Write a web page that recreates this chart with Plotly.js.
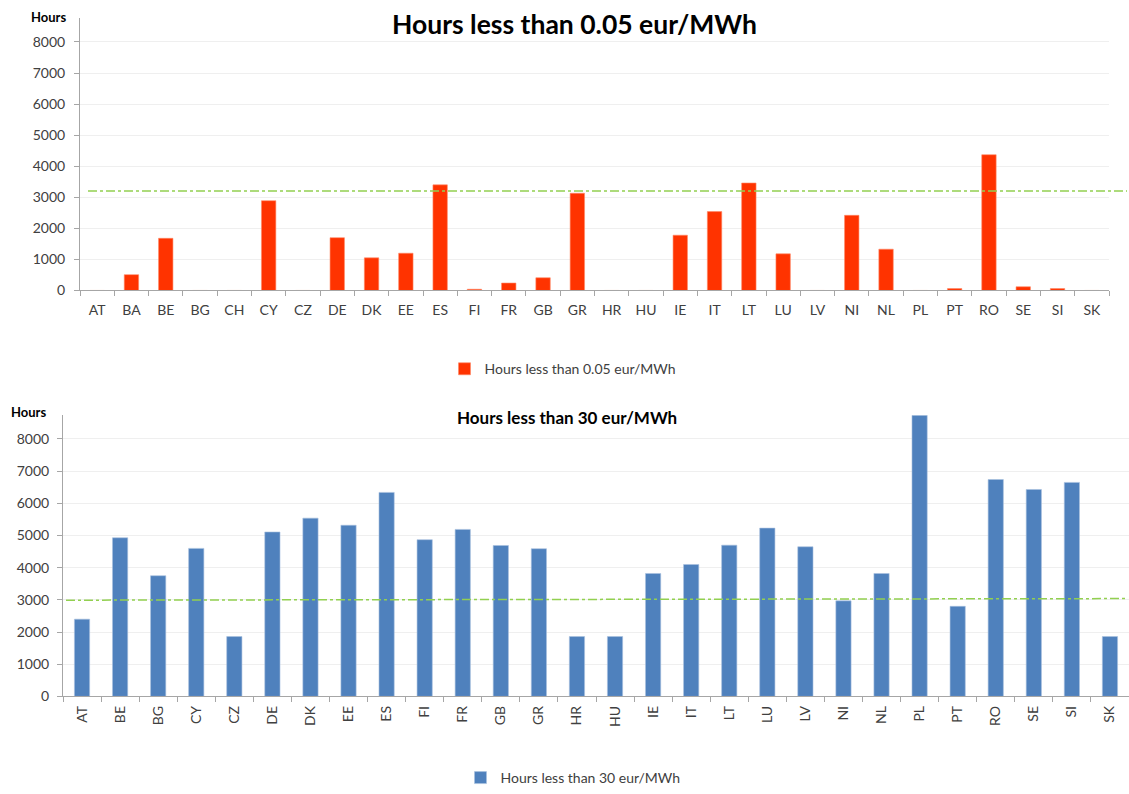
<!DOCTYPE html>
<html>
<head>
<meta charset="utf-8">
<script src="https://cdn.plot.ly/plotly-3.0.1.min.js"></script>
<style>html,body{margin:0;padding:0;background:#fff;}#chart{width:1129px;height:794px;}</style>
</head>
<body>
<div id="chart"></div>
<script>
// ---- Data ----
var topCountries = ["AT","BA","BE","BG","CH","CY","CZ","DE","DK","EE","ES","FI","FR","GB","GR","HR","HU","IE","IT","LT","LU","LV","NI","NL","PL","PT","RO","SE","SI","SK"];
var topHours     = [0,510,1680,0,0,2890,0,1700,1050,1200,3400,40,240,410,3130,0,0,1780,2540,3460,1180,0,2420,1330,0,60,4370,120,60,0];
var topRefLine   = [3200, 3200];

var bottomCountries = ["AT","BE","BG","CY","CZ","DE","DK","EE","ES","FI","FR","GB","GR","HR","HU","IE","IT","LT","LU","LV","NI","NL","PL","PT","RO","SE","SI","SK"];
var bottomHours     = [2400,4930,3750,4600,1860,5110,5540,5320,6340,4870,5190,4690,4590,1860,1860,3820,4100,4700,5230,4650,2970,3820,8740,2800,6740,6430,6650,1860];
var bottomRefLine   = [2990, 3040];

var topTitle = "Hours less than 0.05 eur/MWh";
var bottomTitle = "Hours less than 30 eur/MWh";
var yLabel = "Hours";

// ---- Styling ----
var FONT = "Lato, 'Open Sans', sans-serif";
var tickColor = "#404040";
var axisColor = "#A6A6A6";
var gridColor = "#EFEFEF";

var traces = [
  {
    type: "bar", x: topCountries, y: topHours, name: topTitle,
    xaxis: "x", yaxis: "y", width: 0.42,
    marker: {color: "#FF3300", line: {color: "#FF8A66", width: 0.6}},
    legend: "legend", hoverinfo: "x+y"
  },
  {
    type: "bar", x: bottomCountries, y: bottomHours, name: bottomTitle,
    xaxis: "x2", yaxis: "y2", width: 0.40,
    marker: {color: "#4F81BD", line: {color: "#A9C1DF", width: 0.6}},
    legend: "legend2", hoverinfo: "x+y"
  }
];

var yAxisCommon = {
  showgrid: true, gridcolor: gridColor, gridwidth: 1,
  dtick: 1000, tick0: 0, ticks: "outside", ticklen: 5, tickcolor: axisColor,
  showline: true, linecolor: axisColor, linewidth: 1,
  zeroline: false, tickfont: {family: FONT, size: 14, color: tickColor},
  fixedrange: true
};
var xAxisCommon = {
  type: "category", showgrid: false, ticks: "outside", ticklen: 5, tickcolor: axisColor,
  tickson: "boundaries", showline: true, linecolor: axisColor, linewidth: 1,
  zeroline: false, tickfont: {family: FONT, size: 14, color: tickColor},
  fixedrange: true
};

var layout = {
  width: 1129, height: 794,
  margin: {l: 0, r: 0, t: 0, b: 0},
  paper_bgcolor: "#ffffff", plot_bgcolor: "#ffffff",
  font: {family: FONT, color: tickColor},
  showlegend: true,
  xaxis: Object.assign({}, xAxisCommon, {domain: [80/1129, 1109/1129], anchor: "y", tickangle: 0, ticklabelstandoff: 7}),
  yaxis: Object.assign({}, yAxisCommon, {domain: [1-292.7/794, 1-18/794], range: [0, 8776], anchor: "x", ticklabelstandoff: 6}),
  xaxis2: Object.assign({}, xAxisCommon, {domain: [63/1129, 1], anchor: "y2", tickangle: -90, ticklabelstandoff: 3}),
  yaxis2: Object.assign({}, yAxisCommon, {domain: [1-701.7/794, 1-418.3/794], range: [0, 8741], anchor: "x2", ticklabelstandoff: 5}),
  legend: {
    x: 563/1129, y: 1-372/794, xanchor: "center", yanchor: "middle",
    orientation: "h", font: {family: FONT, size: 14, color: tickColor},
    bgcolor: "rgba(0,0,0,0)", itemwidth: 30
  },
  legend2: {
    x: 573/1129, y: 1-784/794, xanchor: "center", yanchor: "middle",
    orientation: "h", font: {family: FONT, size: 14, color: tickColor},
    bgcolor: "rgba(0,0,0,0)", itemwidth: 30
  },
  shapes: [
    {type: "line", xref: "paper", yref: "y", x0: 88/1129, x1: 1127/1129,
     y0: topRefLine[0], y1: topRefLine[1],
     line: {color: "#92D050", width: 1.5, dash: "dashdot"}},
    {type: "line", xref: "paper", yref: "y2", x0: 66/1129, x1: 1127/1129,
     y0: bottomRefLine[0], y1: bottomRefLine[1],
     line: {color: "#92D050", width: 1.5, dash: "dashdot"}}
  ],
  annotations: [
    {text: "<b>" + topTitle + "</b>", xref: "paper", yref: "paper",
     x: 574/1129, y: 1-24/794, xanchor: "center", yanchor: "middle", showarrow: false,
     font: {family: FONT, size: 26.5, color: "#000000"}},
    {text: "<b>" + bottomTitle + "</b>", xref: "paper", yref: "paper",
     x: 567/1129, y: 1-421/794, xanchor: "center", yanchor: "middle", showarrow: false,
     font: {family: FONT, size: 17, color: "#000000"}},
    {text: "<b>" + yLabel + "</b>", xref: "paper", yref: "paper",
     x: 48/1129, y: 1-17/794, xanchor: "center", yanchor: "middle", showarrow: false,
     font: {family: FONT, size: 13, color: "#000000"}},
    {text: "<b>" + yLabel + "</b>", xref: "paper", yref: "paper",
     x: 29/1129, y: 1-415/794, xanchor: "center", yanchor: "middle", showarrow: false,
     font: {family: FONT, size: 13, color: "#000000"}}
  ]
};

Plotly.newPlot("chart", traces, layout, {displayModeBar: false, staticPlot: true});
</script>
</body>
</html>
